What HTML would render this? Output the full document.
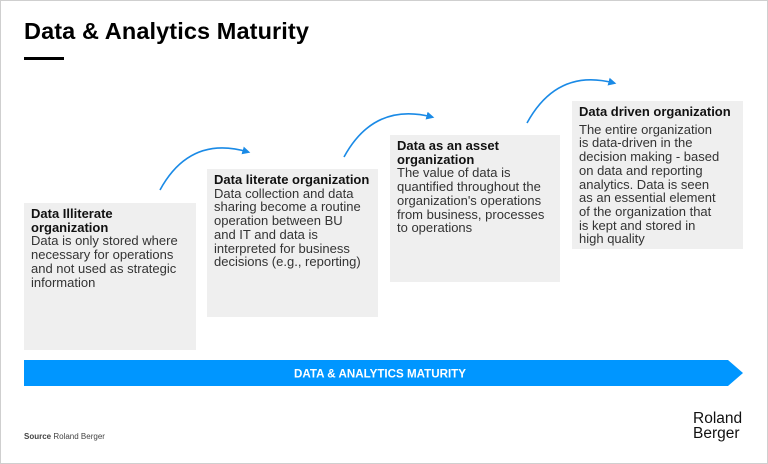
<!DOCTYPE html>
<html><head><meta charset="utf-8"><style>
*{margin:0;padding:0;box-sizing:border-box}
body{width:768px;height:464px;background:#fff;font-family:"Liberation Sans",sans-serif;color:#222;position:relative;overflow:hidden}
.frame{position:absolute;left:0;top:0;width:768px;height:464px;border:1px solid #cfcfcf}
h1{position:absolute;left:24px;top:18px;font-size:23.5px;font-weight:bold;color:#000;letter-spacing:0.1px}
.ul{position:absolute;left:24px;top:57px;width:40px;height:3px;background:#000}
.box{position:absolute;background:#efefef;padding:4px 7px;font-size:13px;line-height:13.7px;color:#333;white-space:nowrap;letter-spacing:0px}
.box b{color:#111}
.src{position:absolute;left:24px;top:432px;font-size:8px;color:#444}
.logo{position:absolute;left:693px;top:411px;font-size:15.5px;line-height:15px;color:#111}
</style></head><body>
<div class="frame"></div>
<h1>Data &amp; Analytics Maturity</h1>
<div class="ul"></div>
<div class="box" style="left:24px;top:203px;width:172px;height:147px"><b>Data Illiterate<br>organization</b><br>Data is only stored where<br>necessary for operations<br>and not used as strategic<br>information</div>
<div class="box" style="left:207px;top:169px;width:171px;height:148px"><b>Data literate organization</b><br>Data collection and data<br>sharing become a routine<br>operation between BU<br>and IT and data is<br>interpreted for business<br>decisions (e.g., reporting)</div>
<div class="box" style="left:390px;top:135px;width:170px;height:147px"><b>Data as an asset<br>organization</b><br>The value of data is<br>quantified throughout the<br>organization's operations<br>from business, processes<br>to operations</div>
<div class="box" style="left:572px;top:101px;width:171px;height:148px"><b>Data driven organization</b><div style="margin-top:4px">The entire organization<br>is data-driven in the<br>decision making - based<br>on data and reporting<br>analytics. Data is seen<br>as an essential element<br>of the organization that<br>is kept and stored in<br>high quality</div></div>
<svg width="768" height="464" style="position:absolute;left:0;top:0">
<defs><marker id="a" markerWidth="5" markerHeight="5" refX="3.5" refY="2.5" orient="auto"><path d="M0,0 L5,2.5 L0,5 Z" fill="#1a8ae6"/></marker></defs>
<g fill="none" stroke="#1a8ae6" stroke-width="1.6" marker-end="url(#a)">
<path d="M160,190 Q190,135 248,152"/>
<path d="M344,157 Q374,102 432,117"/>
<path d="M527,123 Q557,68 614,83"/>
</g>
<polygon points="24,360 728,360 743,373 728,386 24,386" fill="#0096ff"/>
<text x="380" y="377.5" text-anchor="middle" font-family="Liberation Sans" font-weight="bold" font-size="11.6" fill="#fff">DATA &amp; ANALYTICS MATURITY</text>
</svg>
<div class="src"><b>Source</b> Roland Berger</div>
<div class="logo">Roland<br>Berger</div>
</body></html>
